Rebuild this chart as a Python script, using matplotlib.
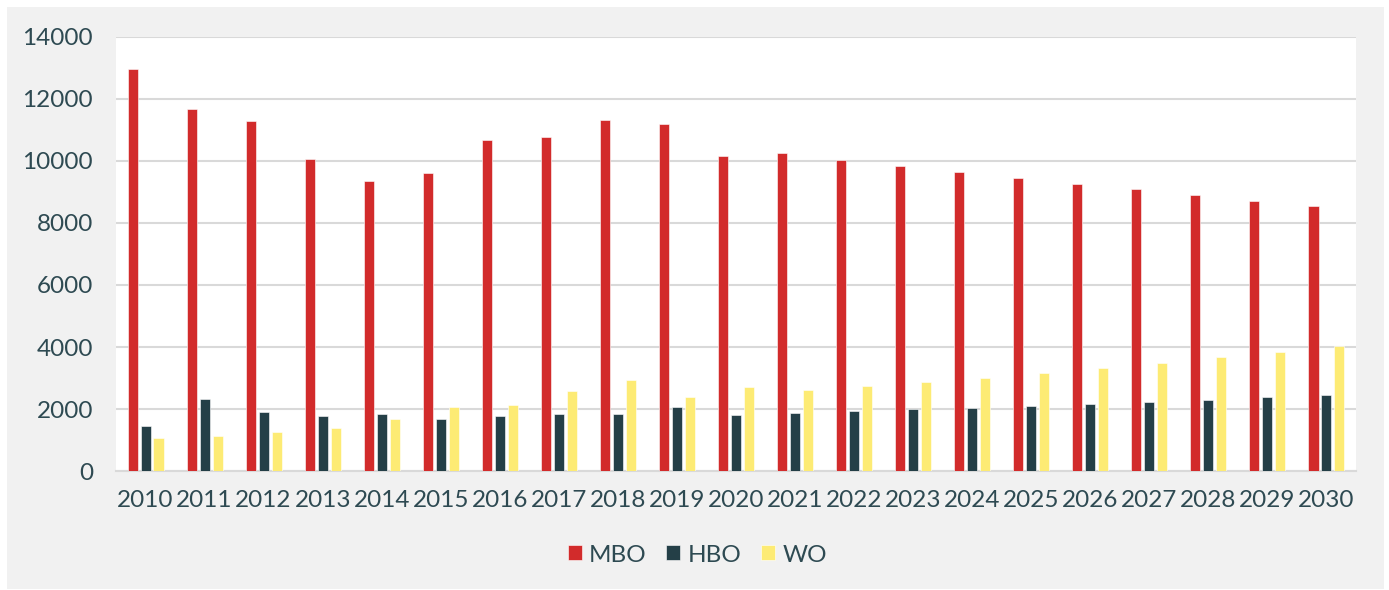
import numpy as np
import matplotlib
matplotlib.use("Agg")
from matplotlib import pyplot as plt
from matplotlib.patches import Rectangle

years = [str(y) for y in range(2010, 2031)]
mbo = [12960, 11670, 11290, 10070, 9360, 9610, 10680, 10760, 11310, 11190, 10150,
       10250, 10030, 9840, 9650, 9440, 9260, 9090, 8890, 8710, 8540]
hbo = [1440, 2310, 1900, 1760, 1840, 1670, 1770, 1840, 1840, 2060, 1800,
       1870, 1930, 1990, 2040, 2110, 2160, 2240, 2300, 2380, 2440]
wo = [1060, 1130, 1250, 1400, 1670, 2050, 2130, 2580, 2930, 2390, 2710,
      2600, 2740, 2870, 3010, 3160, 3320, 3480, 3670, 3850, 4030]

red = "#d22b2b"
dark = "#243f47"
yellow = "#fdeb74"
txt = "#2e4a52"

plt.rcParams['font.family'] = ['Lato', 'DejaVu Sans']

fig = plt.figure(figsize=(13.89, 5.90), dpi=100)
fig.patch.set_facecolor("white")
# grey card behind the chart
fig.patches.append(Rectangle((7 / 1389, 1 / 590), 1377 / 1389, 582 / 590,
                             transform=fig.transFigure, facecolor="#f1f1f1",
                             edgecolor="none", zorder=-5))

ax = fig.add_axes([116 / 1389, (590 - 471) / 590, 1240 / 1389, 434 / 590])
ax.set_facecolor("white")

x = np.arange(len(years))
w = 0.17
off = 0.22
ax.bar(x - off, mbo, w, color=red, edgecolor="white", linewidth=0.4, label="MBO", zorder=3)
ax.bar(x, hbo, w, color=dark, edgecolor="white", linewidth=0.4, label="HBO", zorder=3)
ax.bar(x + off, wo, w, color=yellow, edgecolor="white", linewidth=0.4, label="WO", zorder=3)

ax.set_xlim(-0.5, len(years) - 0.5)
ax.set_ylim(0, 14000)
ax.set_yticks(range(0, 14001, 2000))
ax.set_xticks(x)
ax.set_xticklabels(years)
ax.grid(axis="y", color="#d9d9d9", linewidth=1.5, zorder=0)
ax.set_axisbelow(True)
for s in ["top", "right", "left"]:
    ax.spines[s].set_visible(False)
ax.spines["bottom"].set_color("#d9d9d9")
ax.spines["bottom"].set_linewidth(1.5)
ax.tick_params(axis="both", length=0, labelsize=17.5, colors=txt)
ax.tick_params(axis="x", pad=14)
ax.tick_params(axis="y", pad=16.5)

fig.legend(loc="center", bbox_to_anchor=(0.502, 35 / 590), ncol=3, frameon=False,
           fontsize=17.5, labelcolor=txt, handlelength=0.58, handleheight=0.58,
           handletextpad=0.3, columnspacing=0.8)

fig.savefig("out.png", dpi=100, facecolor=fig.get_facecolor())
